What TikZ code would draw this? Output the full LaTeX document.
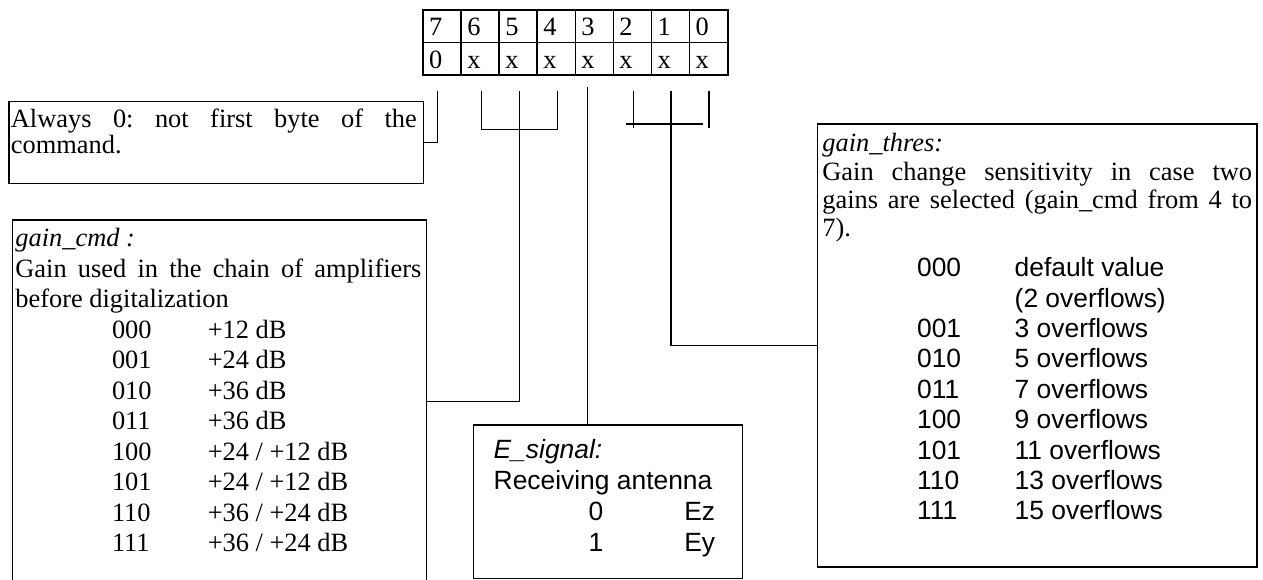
\documentclass[tikz,border=0pt]{standalone}
\usepackage{fontspec}
\setmainfont{Liberation Serif}
\newfontfamily\arialfont{Liberation Sans}
\frenchspacing

\newcommand{\gainrow}[2]{\hspace*{48.3pt}\makebox[47.9pt][l]{#1}#2}
\newcommand{\sigrow}[2]{\hspace*{47.5pt}\makebox[47.8pt][l]{#1}#2}
\newcommand{\thresrow}[2]{\makebox[48.8pt][l]{#1}#2}

\begin{document}
\begin{tikzpicture}[x=0.5pt,y=-0.5pt,
  box/.style={draw,line width=0.75pt,inner sep=0pt,anchor=north west},
  wire/.style={line width=0.75pt},
  cell/.style={draw,line width=0.9pt,anchor=north west,minimum width=19.03pt,
    minimum height=16.25pt,inner xsep=3pt,inner ysep=0pt,text width=13pt,
    align=left,text height=9.75pt,text depth=0pt,font=\fontsize{13.2}{15}\selectfont},
  txt/.style={inner sep=0pt,anchor=base west,align=justify},
  serif/.style={font=\fontsize{13.2}{#1}\selectfont},
  sans/.style={font=\arialfont\fontsize{13.2}{#1}\selectfont}]
 \useasboundingbox (0,0) rectangle (1263,579);
 \clip (0,0) rectangle (1263,579);

 % bit table
 \foreach \b/\v [count=\i from 0] in {7/0,6/x,5/x,4/x,3/x,2/x,1/x,0/x} {
   \node[cell] (hd\b) at ({422.3+38.05*\i},9) {\b};
   \node[cell] (vl\b) at ({422.3+38.05*\i},41.5) {\v};
 }

 % boxes
 \node[box,minimum width=207.2pt,minimum height=41pt] (always) at (8.3,100.5) {};
 \node[box,minimum width=207pt,minimum height=181.75pt] (gaincmd) at (11.7,219) {};
 \node[box,minimum width=134.5pt,minimum height=76.7pt] (esig) at (472.7,424.3) {};
 \node[box,minimum width=219.65pt,minimum height=221.35pt] (thres) at (816.7,123.3) {};

 \node[txt,serif=12.8pt,text width=204pt] (alwaystxt) at (10.5,127.7)
   {\makebox[203pt][s]{Always 0: not first byte of the}\\command.};
 \node[txt,serif=15.25pt,text width=204pt] (gaincmdtxt) at (15,246.7)
   {\textit{gain\_cmd :}\\
    \makebox[203pt][s]{Gain used in the chain of amplifiers}\\
    before digitalization\\
    \gainrow{000}{+12 dB}\\
    \gainrow{001}{+24 dB}\\
    \gainrow{010}{+36 dB}\\
    \gainrow{011}{+36 dB}\\
    \gainrow{100}{+24 / +12 dB}\\
    \gainrow{101}{+24 / +12 dB}\\
    \gainrow{110}{+36 / +24 dB}\\
    \gainrow{111}{+36 / +24 dB}};
 \node[txt,sans=15.5pt,text width=125pt] (esigtxt) at (493.3,458.3)
   {\textit{E\_signal:}\\
    Receiving antenna\\
    \sigrow{0}{Ez}\\
    \sigrow{1}{Ey}};
 \node[txt,serif=14.15pt,text width=216pt] (threstxt) at (822,151.7)
   {\textit{gain\_thres:}\\
    \makebox[214.85pt][s]{Gain change sensitivity in case two}\\
    \makebox[214.85pt][s]{gains are selected (gain\_cmd from 4 to}\\
    7).};
 \node[txt,sans=15.2pt,text width=160pt] (thresrows) at (916.7,276.7)
   {\thresrow{000}{default value}\\
    \thresrow{}{(2 overflows)}\\
    \thresrow{001}{3 overflows}\\
    \thresrow{010}{5 overflows}\\
    \thresrow{011}{7 overflows}\\
    \thresrow{100}{9 overflows}\\
    \thresrow{101}{11 overflows}\\
    \thresrow{110}{13 overflows}\\
    \thresrow{111}{15 overflows}};

 % bit lines
 \coordinate (t7) at (437.7,90.7);
 \coordinate (t6) at (481.7,90.7);
 \coordinate (t5) at (519.3,90.7);
 \coordinate (t4) at (557.3,90.7);
 \coordinate (t3) at (587.7,86.7);
 \coordinate (t2) at (633.3,90.7);
 \coordinate (t1) at (671,90.7);
 \coordinate (t0) at (709,90.7);
 \coordinate (bl) at (626,124);
 \coordinate (br) at (703.3,124);

 \draw[wire] (t7) |- (always.east);
 \draw[wire] (t6) -- ++(0,38.6) -| (t4);
 \draw[wire] (t5) |- (gaincmd.east);
 \draw[wire] (t3) -- (t3 |- esig.north);
 \draw[wire] (t2) -- ++(0,37.6);
 \draw[wire] (t0) -- ++(0,37.6);
 \draw[wire] (bl) -- (br);
 \draw[wire] (t1) |- (thres.west);
\end{tikzpicture}
\end{document}
